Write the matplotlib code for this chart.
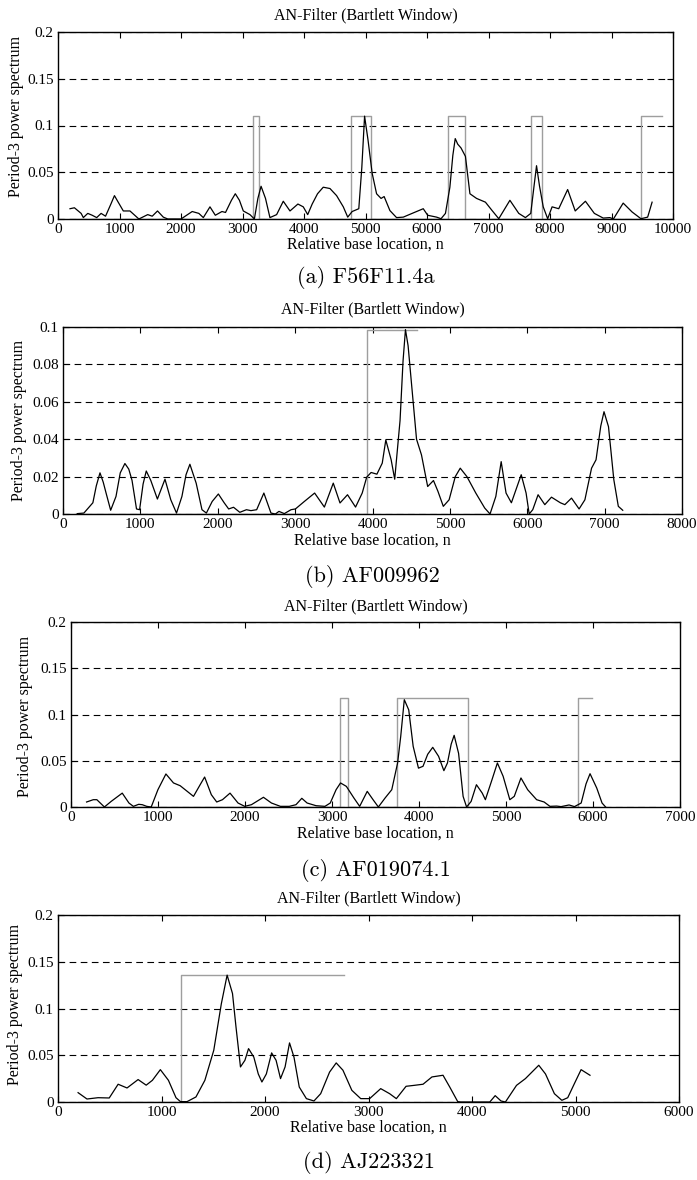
import matplotlib
matplotlib.use("Agg")
import matplotlib.pyplot as plt
from matplotlib.ticker import FixedLocator, FixedFormatter

# ---------------- data ----------------
# (a) F56F11.4a
a_x = [195, 267, 376, 412, 484, 556, 629, 701, 773, 860, 918, 970, 1062, 1170, 1315, 1459, 1532, 1618, 1712, 1785,
       2000, 2182, 2290, 2363, 2471, 2558, 2666, 2724, 2820, 2883, 2950, 3013, 3121, 3193, 3250, 3302, 3374, 3446,
       3555, 3663, 3772, 3901, 3988, 4060, 4133, 4220, 4313, 4422, 4530, 4639, 4711, 4783, 4891, 4940, 4985, 5040,
       5108, 5180, 5253, 5303, 5397, 5505, 5614, 5758, 5939, 6011, 6156, 6228, 6300, 6372, 6420, 6459, 6500, 6553,
       6625, 6698, 6806, 6950, 7059, 7167, 7348, 7492, 7600, 7687, 7740, 7781, 7830, 7890, 7962, 8034, 8142, 8287,
       8410, 8576, 8721, 8865, 8974, 9031, 9190, 9335, 9479, 9588, 9660]
a_y = [0.011, 0.012, 0.006, 0.0015, 0.006, 0.004, 0.0015, 0.006, 0.003, 0.016, 0.025, 0.019, 0.0086, 0.0086, 0.0,
       0.0047, 0.003, 0.0086, 0.002, 0.0, 0.0, 0.008, 0.006, 0.0015, 0.013, 0.004, 0.008, 0.007, 0.020, 0.027,
       0.020, 0.0086, 0.0047, 0.0, 0.022, 0.035, 0.022, 0.0015, 0.0047, 0.019, 0.0086, 0.016, 0.013, 0.0047, 0.016,
       0.027, 0.034, 0.0326, 0.025, 0.013, 0.002, 0.008, 0.011, 0.055, 0.110, 0.085, 0.049, 0.027, 0.022, 0.024,
       0.009, 0.0015, 0.002, 0.006, 0.011, 0.004, 0.002, 0.0003, 0.006, 0.034, 0.068, 0.086, 0.080, 0.076, 0.067,
       0.027, 0.022, 0.018, 0.009, 0.0003, 0.020, 0.006, 0.0015, 0.006, 0.035, 0.057, 0.035, 0.013, 0.0003, 0.013,
       0.011, 0.0315, 0.0086, 0.019, 0.006, 0.001, 0.0015, 0.0, 0.017, 0.0075, 0.0003, 0.002, 0.018]
a_win = [(3165, 3273), (4768, 5086), (6343, 6611), (7687, 7868), (9479, 9826)]
a_win_h = 0.11

# (b) AF009962
b_x = [184, 270, 386, 430, 478, 520, 558, 616, 685, 740, 800, 850, 892, 950, 990, 1035, 1076, 1134, 1220, 1318,
       1393, 1467, 1537, 1590, 1640, 1721, 1796, 1853, 1928, 2008, 2083, 2141, 2204, 2285, 2371, 2429, 2503, 2596,
       2688, 2745, 2791, 2860, 2947, 3004, 3119, 3252, 3378, 3493, 3580, 3677, 3781, 3867, 3925, 3982, 4057, 4126,
       4172, 4241, 4287, 4356, 4395, 4426, 4460, 4500, 4569, 4633, 4713, 4788, 4846, 4915, 4990, 5070, 5134, 5220,
       5335, 5450, 5519, 5594, 5663, 5726, 5795, 5922, 5985, 6025, 6071, 6140, 6227, 6313, 6428, 6486, 6572, 6670,
       6745, 6831, 6889, 6950, 6992, 7050, 7119, 7177, 7234]
b_y = [0.0002, 0.0005, 0.006, 0.015, 0.022, 0.017, 0.011, 0.002, 0.0094, 0.022, 0.027, 0.024, 0.018, 0.0027,
       0.0023, 0.016, 0.023, 0.018, 0.008, 0.0186, 0.0076, 0.0005, 0.0094, 0.021, 0.0266, 0.0165, 0.0023, 0.0005,
       0.0067, 0.0107, 0.006, 0.0027, 0.0036, 0.0009, 0.0023, 0.0018, 0.0023, 0.0112, 0.0005, 0.0, 0.0014, 0.0002,
       0.0023, 0.0027, 0.0067, 0.0112, 0.0037, 0.0165, 0.0059, 0.0103, 0.0037, 0.0112, 0.0197, 0.0222, 0.0213,
       0.0272, 0.0396, 0.029, 0.0186, 0.050, 0.082, 0.0986, 0.090, 0.0716, 0.040, 0.0316, 0.0147, 0.0179, 0.0121,
       0.0041, 0.0076, 0.020, 0.0245, 0.020, 0.0112, 0.0032, 0.0, 0.0094, 0.028, 0.0112, 0.006, 0.021, 0.0112,
       0.0, 0.0023, 0.0103, 0.005, 0.009, 0.006, 0.005, 0.0085, 0.0027, 0.0076, 0.0245, 0.029, 0.047, 0.0547,
       0.0467, 0.0183, 0.0041, 0.002]
b_win = [(3925, 4569)]
b_win_h = 0.0986

# (c) AF019074.1
c_x = [179, 256, 297, 384, 461, 589, 666, 717, 778, 819, 870, 922, 999, 1091, 1178, 1255, 1408, 1490, 1536,
       1613, 1675, 1741, 1828, 1920, 1997, 2074, 2212, 2304, 2407, 2509, 2586, 2653, 2714, 2817, 2919, 2980, 3047,
       3098, 3165, 3252, 3318, 3405, 3472, 3533, 3610, 3687, 3754, 3790, 3831, 3882, 3933, 3994, 4046, 4100, 4158,
       4225, 4286, 4327, 4370, 4404, 4455, 4507, 4547, 4599, 4660, 4727, 4763, 4839, 4901, 4967, 5044, 5095, 5172,
       5249, 5352, 5438, 5505, 5582, 5633, 5725, 5787, 5864, 5920, 5966, 6043, 6104, 6145]
c_y = [0.0054, 0.0079, 0.0079, 0.0, 0.006, 0.015, 0.0043, 0.0007, 0.0029, 0.0025, 0.0007, 0.0, 0.0187, 0.0357,
       0.026, 0.023, 0.0115, 0.025, 0.0324, 0.0133, 0.0054, 0.0079, 0.015, 0.0043, 0.0007, 0.0025, 0.0105, 0.0043,
       0.0007, 0.0007, 0.0025, 0.0094, 0.0043, 0.0014, 0.0007, 0.0043, 0.0187, 0.026, 0.0223, 0.0097, 0.0007,
       0.0169, 0.0079, 0.0, 0.0097, 0.0187, 0.0476, 0.0764, 0.116, 0.105, 0.0656, 0.042, 0.044, 0.057, 0.0645,
       0.0548, 0.0393, 0.0476, 0.068, 0.0775, 0.058, 0.0115, 0.0, 0.006, 0.0241, 0.015, 0.0079, 0.0295, 0.0476,
       0.0332, 0.0079, 0.0115, 0.0314, 0.0187, 0.0079, 0.0054, 0.0007, 0.001, 0.0004, 0.0022, 0.0004, 0.0043,
       0.025, 0.036, 0.0205, 0.0043, 0.0]
c_win = [(3088, 3185), (3749, 4568), (5823, 5991)]
c_win_h = 0.118

# (d) AJ223321
d_x = [194, 280, 387, 495, 581, 667, 774, 852, 912, 989, 1067, 1140, 1183, 1247, 1333, 1419, 1505, 1578, 1634,
       1686, 1720, 1763, 1806, 1841, 1892, 1935, 1970, 2013, 2064, 2107, 2150, 2194, 2237, 2280, 2331, 2400,
       2473, 2538, 2624, 2688, 2753, 2839, 2925, 3011, 3118, 3204, 3269, 3363, 3441, 3527, 3613, 3720, 3785,
       3862, 3892, 4172, 4224, 4280, 4323, 4430, 4516, 4645, 4710, 4796, 4868, 4925, 4989, 5054, 5140]
d_y = [0.010, 0.0032, 0.0046, 0.0043, 0.019, 0.015, 0.024, 0.018, 0.0232, 0.0346, 0.0232, 0.0046, 0.0004,
       0.0004, 0.0054, 0.0232, 0.0553, 0.105, 0.1357, 0.116, 0.080, 0.0375, 0.0446, 0.0571, 0.048, 0.030,
       0.0214, 0.030, 0.0525, 0.0446, 0.025, 0.0375, 0.0632, 0.048, 0.016, 0.0036, 0.0011, 0.0089, 0.032,
       0.0418, 0.034, 0.0125, 0.0036, 0.0036, 0.0143, 0.0089, 0.0036, 0.0168, 0.0178, 0.019, 0.0268, 0.0286,
       0.016, 0.0004, 0.0, 0.0, 0.0068, 0.0011, 0.0, 0.0178, 0.025, 0.0393, 0.030, 0.0089, 0.0018, 0.0046,
       0.0196, 0.0346, 0.0286]
d_win = [(1191, 2761)]
d_win_h = 0.1357

titles = ["AN-Filter (Bartlett Window)"] * 4
captions = ["(a) F56F11.4a", "(b) AF009962", "(c) AF019074.1", "(d) AJ223321"]
xlabel = "Relative base location, n"
ylabel = "Period-3 power spectrum"

xticks_list = [list(range(0, 10001, 1000)), list(range(0, 8001, 1000)),
               list(range(0, 7001, 1000)), list(range(0, 6001, 1000))]
yticks_list = [[0, 0.05, 0.1, 0.15, 0.2], [0, 0.02, 0.04, 0.06, 0.08, 0.1],
               [0, 0.05, 0.1, 0.15, 0.2], [0, 0.05, 0.1, 0.15, 0.2]]
yticklabels_list = [["0", "0.05", "0.1", "0.15", "0.2"], ["0", "0.02", "0.04", "0.06", "0.08", "0.1"],
                    ["0", "0.05", "0.1", "0.15", "0.2"], ["0", "0.05", "0.1", "0.15", "0.2"]]

# ---------------- layout ----------------
W, H = 697, 1180
fig = plt.figure(figsize=(W / 100, H / 100), dpi=100)
serif = ["Liberation Serif", "DejaVu Serif"]
capfont = ["cmr10", "DejaVu Serif"]

# pixel boxes: left, right, top, bottom
boxes = [(58, 673, 32, 219), (63, 682, 327, 514), (71, 680, 622, 807), (58, 679, 915, 1102)]
title_y = [15, 309, 606, 898]
xlabel_y = [245, 541, 834, 1128]
caption_y = [278, 576, 870, 1163]
ylabel_x = [16, 19, 25, 15]
ylabel_y = [116, 420, 716, 1004]

series = [(a_x, a_y, a_win, a_win_h), (b_x, b_y, b_win, b_win_h),
          (c_x, c_y, c_win, c_win_h), (d_x, d_y, d_win, d_win_h)]

for i in range(4):
    l, r, t, b = boxes[i]
    ax = fig.add_axes([l / W, 1 - b / H, (r - l) / W, (b - t) / H])
    xs, ys, win, h = series[i]
    # window step line
    wx = [xs[0]]
    wy = [0]
    for k, (s, e) in enumerate(win):
        wx += [s, s, e]
        wy += [0, h, h]
        if k < len(win) - 1:
            wx.append(e)
            wy.append(0)
    ax.plot(wx, wy, color="0.62", lw=1.0, zorder=2)
    ax.plot(xs, ys, color="black", lw=0.9, zorder=3, solid_joinstyle="round")
    xmax = xticks_list[i][-1]
    ymax = yticks_list[i][-1]
    ax.set_xlim(0, xmax)
    ax.set_ylim(0, ymax)
    ax.xaxis.set_major_locator(FixedLocator(xticks_list[i]))
    ax.yaxis.set_major_locator(FixedLocator(yticks_list[i]))
    ax.yaxis.set_major_formatter(FixedFormatter(yticklabels_list[i]))
    ax.xaxis.set_major_formatter(FixedFormatter([str(v) for v in xticks_list[i]]))
    ax.tick_params(direction="in", top=True, right=True, length=4, width=0.8,
                   labelsize=11, pad=3)
    for lab in ax.get_xticklabels() + ax.get_yticklabels():
        lab.set_family(serif)
    ax.grid(axis="y", color="black", linestyle=(0, (6, 4)), lw=0.8)
    ax.set_axisbelow(True)
    for sp in ax.spines.values():
        sp.set_linewidth(1.0)
    fig.text((l + r) / 2 / W, 1 - title_y[i] / H, titles[i], ha="center", va="center",
             family=serif, fontsize=11.5)
    fig.text((l + r) / 2 / W, 1 - xlabel_y[i] / H, xlabel, ha="center", va="center",
             family=serif, fontsize=11.5)
    fig.text(ylabel_x[i] / W, 1 - ylabel_y[i] / H, ylabel, ha="center", va="center",
             rotation=90, family=serif, fontsize=11.5)
    fig.text((l + r) / 2 / W, 1 - caption_y[i] / H, captions[i], ha="center", va="center",
             family=capfont, fontsize=16)

fig.savefig("out.png", dpi=100)
